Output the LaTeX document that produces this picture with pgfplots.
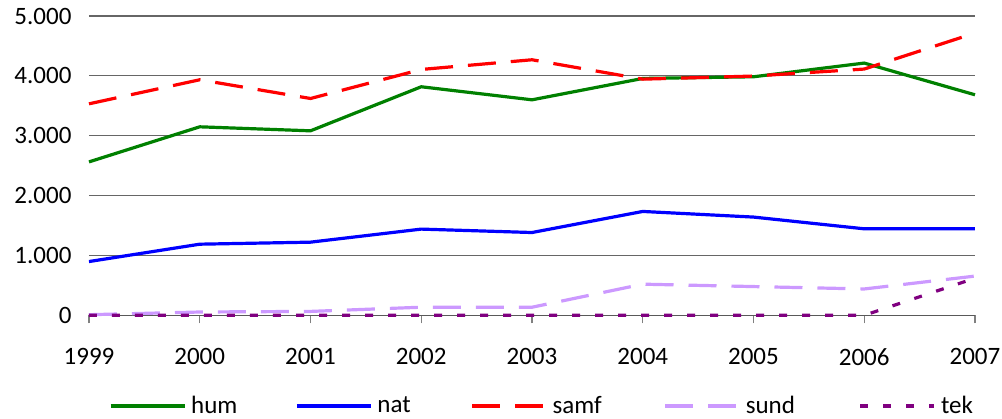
\documentclass[border=0pt]{standalone}
\usepackage{fontspec}
\setmainfont{Carlito}
\usepackage{pgfplots}
\pgfplotsset{compat=1.18}
\definecolor{chum}{RGB}{0,128,0}
\definecolor{cnat}{RGB}{0,0,255}
\definecolor{csamf}{RGB}{255,0,0}
\definecolor{csund}{RGB}{204,153,255}
\definecolor{ctek}{RGB}{128,0,128}
\begin{document}
\begin{tikzpicture}
\path[use as bounding box] (-44.5pt,-51.35pt) rectangle (456.5pt,157.65pt);
\begin{axis}[
  at={(0,0)}, anchor=south west,
  scale only axis, width=443pt, height=149.65pt,
  xmin=1999, xmax=2007, ymin=0, ymax=5000,
  xtick={1999,2000,...,2007},
  ytick={0,1000,...,5000},
  axis x line*=bottom, axis y line*=left,
  y axis line style={draw=none},
  x axis line style={draw=black!65, line width=0.6pt},
  ytick style={draw=none},
  xtick style={draw=black!50, line width=0.6pt},
  tick align=outside, major tick length=4pt,
  ymajorgrids, grid style={draw=black!60, line width=0.6pt},
  clip=false,
  font=\fontsize{12.5}{15}\selectfont,
  tick label style={font=\fontsize{12.5}{15}\selectfont},
  /pgf/number format/assume math mode=true,
  yticklabel style={/pgf/number format/1000 sep={.}, xshift=-1.25pt},
  xticklabel style={/pgf/number format/1000 sep={}, yshift=-9pt},
  legend columns=5,
  legend style={draw=none, fill=none, at={(0.0226,-0.303)}, anchor=west,
    inner sep=0pt, outer sep=0pt,
    font=\fontsize{12.5}{15}\selectfont,
    nodes={inner sep=0pt, outer sep=0pt}},
  legend image code/.code={\draw[#1] (0pt,0pt) -- (37pt,0pt);},
  every axis plot/.append style={line width=1.6pt, line join=round},
]
\addplot[chum] coordinates {(1999,2563) (2000,3149) (2001,3082) (2002,3818) (2003,3600) (2004,3957) (2005,3985) (2006,4214) (2007,3684)};
\addlegendentry{\makebox[54.5pt][l]{\hspace{2.5pt}hum}}
\addplot[cnat] coordinates {(1999,898) (2000,1188) (2001,1222) (2002,1440) (2003,1383) (2004,1735) (2005,1641) (2006,1445) (2007,1445)};
\addlegendentry{\makebox[49pt][l]{\hspace{2.5pt}nat}}
\addplot[csamf, dash pattern=on 14pt off 7.5pt] coordinates {(1999,3533) (2000,3935) (2001,3622) (2002,4107) (2003,4269) (2004,3945) (2005,3997) (2006,4114) (2007,4716)};
\addlegendentry{\makebox[58pt][l]{\hspace{2.5pt}samf}}
\addplot[csund, dash pattern=on 14pt off 7.5pt] coordinates {(1999,10) (2000,55) (2001,65) (2002,135) (2003,135) (2004,520) (2005,480) (2006,440) (2007,655)};
\addlegendentry{\makebox[59pt][l]{\hspace{2.5pt}sund}}
\addplot[ctek, dash pattern=on 4pt off 7.5pt] coordinates {(1999,0) (2000,0) (2001,0) (2002,0) (2003,0) (2004,0) (2005,0) (2006,0) (2007,620)};
\addlegendentry{\hspace{2.5pt}tek}
\end{axis}
\end{tikzpicture}
\end{document}
